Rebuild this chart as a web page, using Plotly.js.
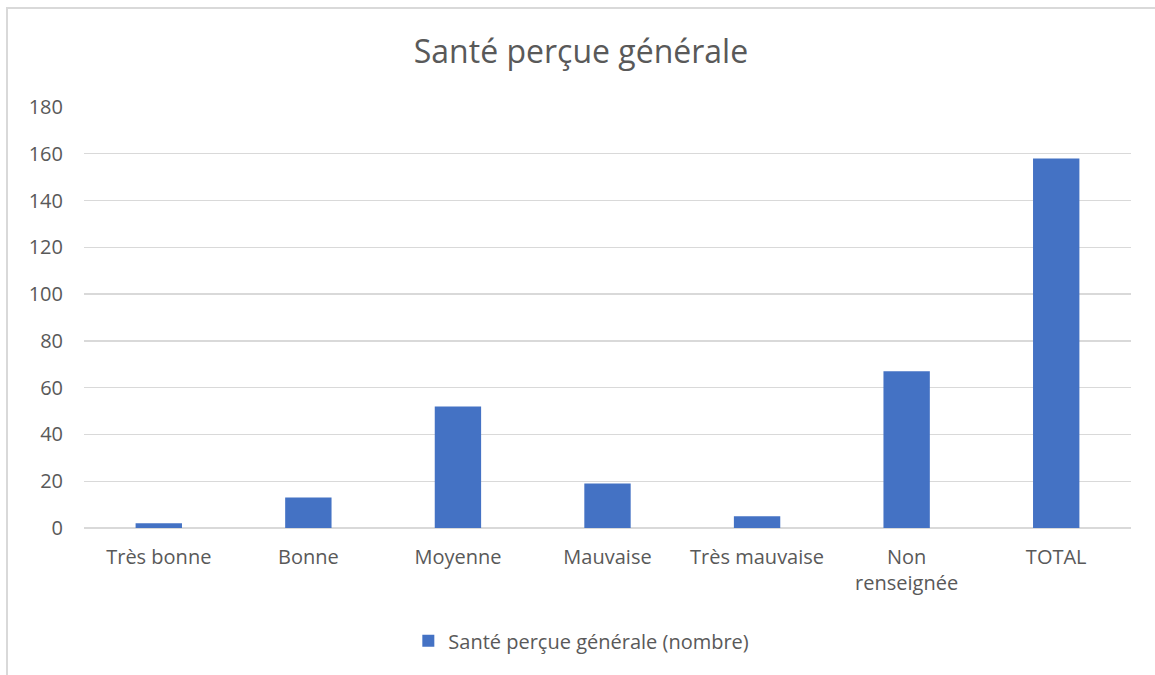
<!DOCTYPE html>
<html>
<head>
<meta charset="utf-8">
<script src="https://cdn.plot.ly/plotly-3.0.1.min.js"></script>
<style>
  html, body { margin: 0; padding: 0; background: #ffffff; }
  #frame { position: absolute; left: 6px; top: 7px; width: 1149px; height: 668px;
           border-left: 2px solid #d9d9d9; border-top: 2px solid #d9d9d9; box-sizing: border-box; }
  #chart { position: absolute; left: 0; top: 0; width: 1155px; height: 675px; }
</style>
</head>
<body>
<div id="frame"></div>
<div id="chart"></div>
<script>
const categories = ["Très bonne", "Bonne", "Moyenne", "Mauvaise", "Très mauvaise", "Non<br>renseignée", "TOTAL"];
const values = [2, 13, 52, 19, 5, 67, 158];
const seriesName = "Santé perçue générale (nombre)";
const chartTitle = "Santé perçue générale";
const yTicks = [0, 20, 40, 60, 80, 100, 120, 140, 160, 180];

const textColor = "#595959";
const fontFam = "'Open Sans', 'Noto Sans', sans-serif";

const data = [{
  type: "bar",
  x: categories,
  y: values,
  name: seriesName,
  marker: { color: "#4472C4" },
  showlegend: true,
  hoverinfo: "x+y"
}];

const layout = {
  width: 1155,
  height: 675,
  margin: { l: 84, r: 24, t: 107, b: 147 },
  paper_bgcolor: "rgba(0,0,0,0)",
  plot_bgcolor: "rgba(0,0,0,0)",
  font: { family: fontFam, color: textColor, size: 20 },
  title: {
    text: chartTitle,
    font: { family: fontFam, size: 32, color: textColor },
    xref: "container", x: 0.503, xanchor: "center",
    yref: "container", y: 0.923, yanchor: "middle"
  },
  bargap: 0.69,
  xaxis: {
    type: "category",
    showgrid: false,
    showline: false,
    ticks: "",
    tickfont: { family: fontFam, size: 20, color: textColor },
    ticklabelstandoff: 15
  },
  yaxis: {
    range: [0, 180],
    tickvals: yTicks,
    ticktext: yTicks.map(String),
    showgrid: true,
    gridcolor: "#d9d9d9",
    gridwidth: 1.3,
    zeroline: true,
    zerolinecolor: "#d9d9d9",
    zerolinewidth: 1.3,
    showline: false,
    ticks: "",
    tickfont: { family: fontFam, size: 20, color: textColor },
    ticklabelstandoff: 20
  },
  legend: {
    orientation: "h",
    x: 0.475, xanchor: "center",
    y: -0.268, yanchor: "middle",
    font: { family: fontFam, size: 20, color: textColor },
    bgcolor: "rgba(0,0,0,0)"
  },
  showlegend: true
};

Plotly.newPlot("chart", data, layout, { displayModeBar: false, staticPlot: true });
</script>
</body>
</html>
